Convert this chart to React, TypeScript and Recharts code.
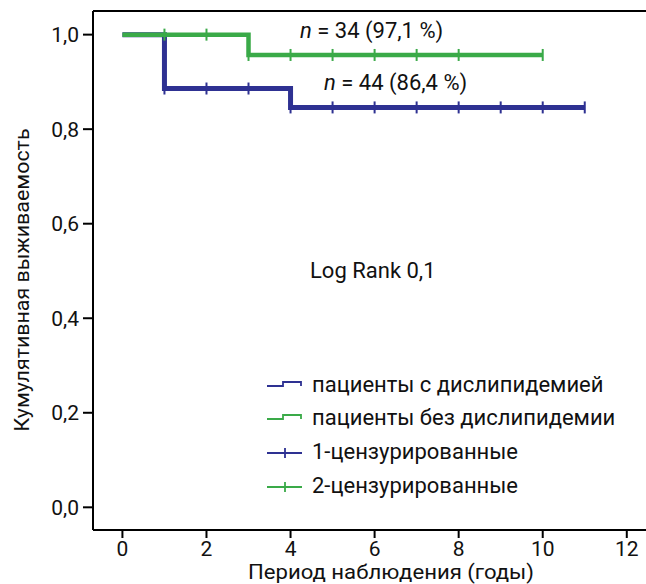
import React from 'react';
import { ComposedChart, Line, Scatter, XAxis, YAxis, ReferenceLine } from 'recharts';

// Kaplan–Meier steps (time in years, cumulative survival)
const dysTimes = [0, 1, 4, 11];
const dysSurv = [1.0, 0.886, 0.846, 0.846];
const noDysTimes = [0, 3, 10];
const noDysSurv = [1.0, 0.957, 0.957];

// censored observations (years)
const dysCensored = [1, 2, 3, 4, 5, 6, 7, 8, 9, 10, 11];
const noDysCensored = [1, 2, 3, 4, 5, 6, 7, 8, 10];

const xTicks = [0, 2, 4, 6, 8, 10, 12];
const yTicks = [0, 0.2, 0.4, 0.6, 0.8, 1.0];

const seriesLabels = ['пациенты с дислипидемией', 'пациенты без дислипидемии', '1-цензурированные', '2-цензурированные'];
const noteDys = { n: 44, pct: '86,4 %' };
const noteNoDys = { n: 34, pct: '97,1 %' };
const logRankText = 'Log Rank 0,1';
const xTitle = 'Период наблюдения (годы)';
const yTitle = 'Кумулятивная выживаемость';

const BLUE = '#2e3192';
const GREEN = '#3aaa48';
const FONT = 'Roboto, sans-serif';
const FS = 21;
const FS_NOTE = 22;

const toRows = (ts: number[], ss: number[]) => ts.map((t, i) => ({ t, s: ss[i] }));
const survAt = (ts: number[], ss: number[], t: number) => {
  let v = ss[0];
  for (let i = 0; i < ts.length; i++) if (ts[i] <= t) v = ss[i];
  return v;
};
const censorRows = (cs: number[], ts: number[], ss: number[]) => cs.map((t) => ({ t, s: survAt(ts, ss, t) }));

const dysData = toRows(dysTimes, dysSurv);
const noDysData = toRows(noDysTimes, noDysSurv);
const dysCensorData = censorRows(dysCensored, dysTimes, dysSurv);
const noDysCensorData = censorRows(noDysCensored, noDysTimes, noDysSurv);

const tickShape = (color: string) => (p: any) => (
  <line x1={p.cx} x2={p.cx} y1={p.cy - 6} y2={p.cy + 6} stroke={color} strokeWidth={2} />
);

const fmt = (v: number) => v.toFixed(1).replace('.', ',');

export default function App() {
  const legendY = [386, 419, 453, 487];
  return (
    <div style={{ position: 'absolute', left: 0, top: 0, width: 646, height: 584, overflow: 'hidden', background: '#fff' }}>
      <ComposedChart width={652} height={584} margin={{ top: 11, right: 0, left: 0, bottom: 0 }}>
        <XAxis
          dataKey="t"
          type="number"
          domain={[-0.7, 12.6]}
          allowDataOverflow
          ticks={xTicks}
          height={54}
          axisLine={{ stroke: '#000', strokeWidth: 2 }}
          tickLine={{ stroke: '#000', strokeWidth: 2 }}
          tickSize={8}
          tickMargin={3}
          tick={{ fill: '#111', fontSize: 21, fontFamily: FONT }}
        />
        <YAxis
          type="number"
          domain={[-0.048, 1.05]}
          allowDataOverflow
          ticks={yTicks}
          width={93}
          tickFormatter={fmt}
          axisLine={{ stroke: '#000', strokeWidth: 2 }}
          tickLine={{ stroke: '#000', strokeWidth: 2 }}
          tickSize={10}
          tickMargin={4}
          tick={{ fill: '#111', fontSize: FS, fontFamily: FONT }}
        />
        <ReferenceLine y={1.05} stroke="#000" strokeWidth={2} />
        <Line data={dysData} dataKey="s" type="stepAfter" stroke={BLUE} strokeWidth={5} dot={false} isAnimationActive={false} />
        <Line data={noDysData} dataKey="s" type="stepAfter" stroke={GREEN} strokeWidth={4.5} dot={false} isAnimationActive={false} />
        <Scatter data={dysCensorData} dataKey="s" shape={tickShape(BLUE)} isAnimationActive={false} />
        <Scatter data={noDysCensorData} dataKey="s" shape={tickShape(GREEN)} isAnimationActive={false} />
      </ComposedChart>
      <svg width={646} height={584} style={{ position: 'absolute', left: 0, top: 0, pointerEvents: 'none' }} fontFamily={FONT} fill="#111">
        <text x={300} y={38} fontSize={FS_NOTE}>
          <tspan fontStyle="italic">n</tspan> = {noteNoDys.n} ({noteNoDys.pct})
        </text>
        <text x={324} y={90} fontSize={FS_NOTE}>
          <tspan fontStyle="italic">n</tspan> = {noteDys.n} ({noteDys.pct})
        </text>
        <text x={310} y={278} fontSize={FS_NOTE}>{logRankText}</text>
        {/* legend */}
        <path d={`M267 ${legendY[0]} H283 V${legendY[0] - 4} H301 V${legendY[0]}`} fill="none" stroke={BLUE} strokeWidth={1.8} />
        <path d={`M267 ${legendY[1]} H283 V${legendY[1] - 4} H301 V${legendY[1]}`} fill="none" stroke={GREEN} strokeWidth={1.8} />
        <path d={`M267 ${legendY[2]} H302 M285 ${legendY[2] - 5} V${legendY[2] + 5}`} fill="none" stroke={BLUE} strokeWidth={1.8} />
        <path d={`M267 ${legendY[3]} H302 M285 ${legendY[3] - 5} V${legendY[3] + 5}`} fill="none" stroke={GREEN} strokeWidth={1.8} />
        {seriesLabels.map((l, i) => (
          <text key={l} x={312} y={legendY[i] + 6} fontSize={FS_NOTE}>{l}</text>
        ))}
        <text x={391} y={579} fontSize={20.5} textAnchor="middle" textLength={286} lengthAdjust="spacingAndGlyphs">{xTitle}</text>
        <text x={22} y={280} fontSize={FS} textAnchor="middle" dominantBaseline="central" transform="rotate(-90 22 280)" textLength={303} lengthAdjust="spacingAndGlyphs">{yTitle}</text>
      </svg>
    </div>
  );
}
